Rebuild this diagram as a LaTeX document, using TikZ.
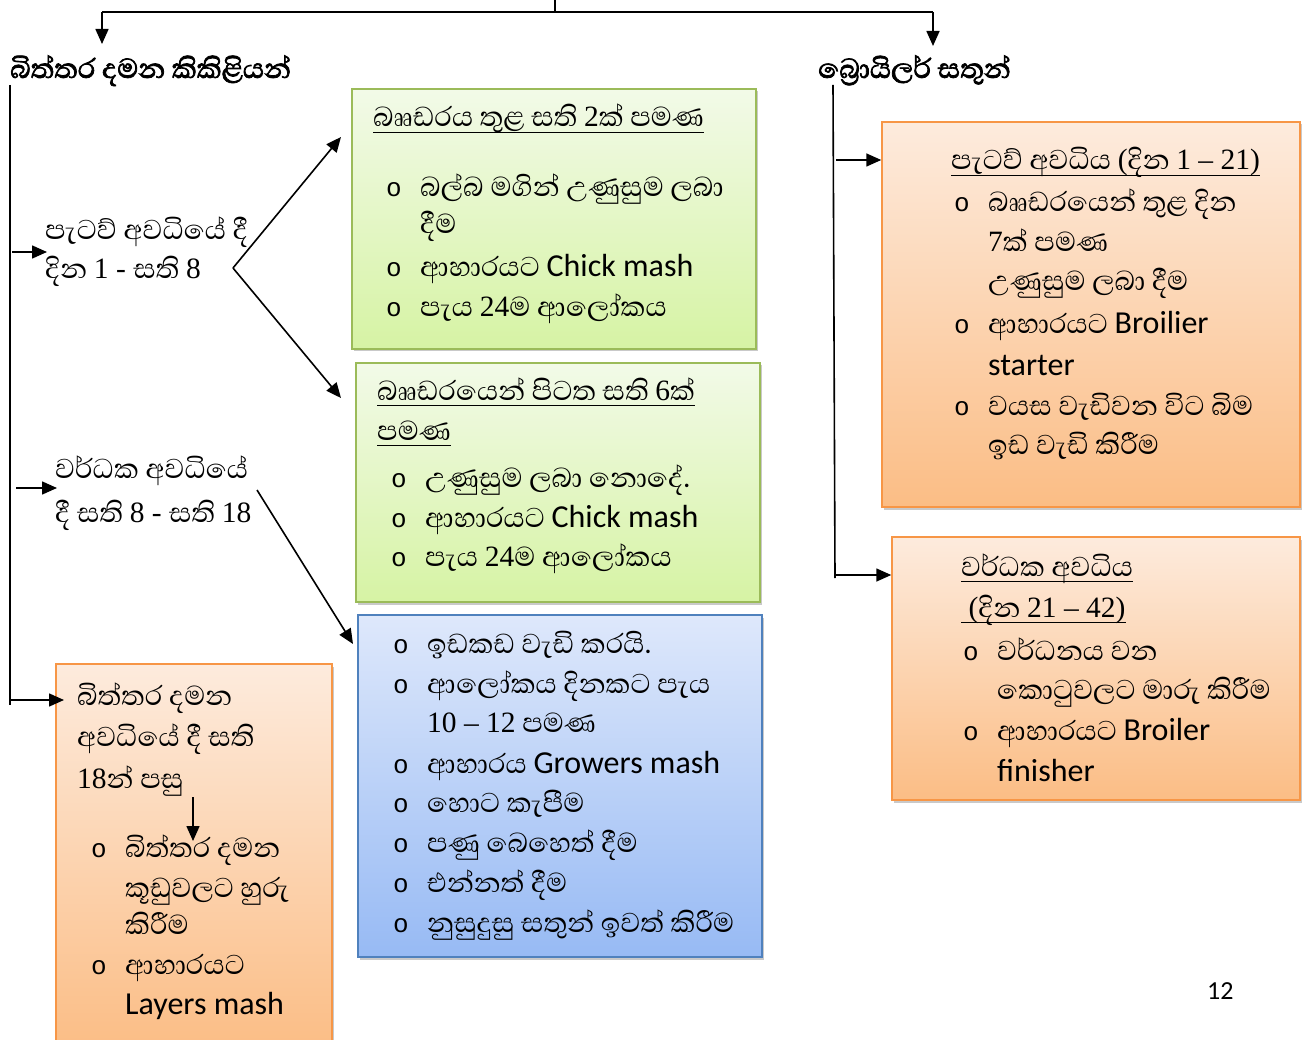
\documentclass[tikz,border=0pt]{standalone}
\usepackage{fontspec}
\setmainfont{Liberation Serif}
\newfontfamily\sifont[Script=Sinhala]{Abhaya Libre}
\newfontfamily\sibold[Script=Sinhala,FakeBold=2.2]{Abhaya Libre}
\newfontfamily\calf{Carlito}
\newfontfamily\tnr{Liberation Serif}
\newfontfamily\monof{Liberation Mono}
\usetikzlibrary{arrows.meta,shadows}
\newcommand\LT[1]{{\calf\fontsize{32}{38}\selectfont #1}}
\newcommand\NN[1]{{\tnr\fontsize{29.5}{34}\selectfont #1}}
\newcommand\BU{\llap{\makebox[34pt][l]{\monof\fontsize{26}{30}\selectfont o}}}
\newcommand\ULX[1]{\setbox0\hbox{#1}\rlap{\rule[-6pt]{\wd0}{1.4pt}}\box0}
\definecolor{gtop}{HTML}{F2FAE8}
\definecolor{gbot}{HTML}{D6F3A4}
\definecolor{gbor}{HTML}{9BBB59}
\definecolor{btop}{HTML}{DEE8FB}
\definecolor{bbot}{HTML}{97BAF4}
\definecolor{bbor}{HTML}{4F81BD}
\definecolor{otop}{HTML}{FDEBDD}
\definecolor{obot}{HTML}{FBBD85}
\definecolor{obor}{HTML}{F79646}
\tikzset{
  ln/.style={line width=1.6pt},
  arr/.style={line width=1.6pt,-{Triangle[length=15pt,width=13pt]}},
  txt/.style={anchor=base west, inner sep=0pt, font=\sifont\fontsize{35}{40}\selectfont},
  hd/.style={anchor=base west, inner sep=0pt, font=\sibold\fontsize{35}{40}\selectfont},
  boxbase/.style={rectangle, inner sep=0pt, line width=1.5pt,
     drop shadow={shadow xshift=2pt, shadow yshift=-2.5pt, opacity=0.35, fill=black!60}},
  gbox/.style={boxbase, draw=gbor, top color=gtop, bottom color=gbot},
  bbox/.style={boxbase, draw=bbor, top color=btop, bottom color=bbot},
  obox/.style={boxbase, draw=obor, top color=otop, bottom color=obot},
}
\begin{document}
\begin{tikzpicture}[x=1pt,y=-1pt]
\useasboundingbox (0,0) rectangle (1306,1040);
\fill[white] (0,0) rectangle (1306,1040);

% boxes
\node[gbox, minimum width=404pt, minimum height=260pt] (b1) at (554,219) {};
\node[gbox, minimum width=404pt, minimum height=239pt] (b2) at (558,482.5) {};
\node[bbox, minimum width=404pt, minimum height=342pt] (b3) at (560,786) {};
\node[obox, minimum width=276pt, minimum height=386pt] (b4) at (194,857) {};
\node[obox, minimum width=418pt, minimum height=385pt] (b5) at (1091,314.5) {};
\node[obox, minimum width=408pt, minimum height=263pt] (b6) at (1096,668.5) {};

% headings
\node[hd] (h1) at (10,78) {බිත්තර දමන කිකිළියන්};
\node[hd] (h2) at (818,78) {බ්‍රොයිලර් සතුන්};

% top connectors
\coordinate (top) at (555,0);
\coordinate (topm) at (555,12);
\coordinate (tl) at (102,12);
\coordinate (tr) at (933,12);
\coordinate (tla) at (102,44);
\coordinate (tra) at (933,46);
\draw[ln] (top) -- (topm);
\draw[ln] (tl) -- (tr);
\draw[arr] (tl) -- (tla);
\draw[arr] (tr) -- (tra);

% left labels
\node[txt] (l1a) at (45,240) {පැටව් අවධියේ දී};
\node[txt] (l1b) at (45,279) {දින \NN{1 - }සති \NN{8}};
\node[txt] (l2a) at (55,478) {වර්ධක අවධියේ};
\node[txt] (l2b) at (55,522) {දී සති \NN{8 - }සති \NN{18}};

% left spine
\coordinate (ls0) at (10,85);
\coordinate (ls1) at (10,705);
\draw[ln] (ls0) -- (ls1);
\coordinate (la1) at (12,252);
\coordinate (la1e) at (47,252);
\coordinate (la2) at (16,488);
\coordinate (la2e) at (57,488);
\coordinate (la3) at (10,700);
\coordinate (la3e) at (64,700);
\draw[arr] (la1) -- (la1e);
\draw[arr] (la2) -- (la2e);
\draw[arr] (la3) -- (la3e);

% V connector
\coordinate (vp) at (233,268);
\coordinate (v1) at (341,137);
\coordinate (v2) at (341,398);
\draw[arr] (vp) -- (v1);
\draw[arr] (vp) -- (v2);
\coordinate (w0) at (257,490);
\coordinate (w1) at (353,644);
\draw[arr] (w0) -- (w1);

% right spine
\coordinate (rs0) at (833,85);
\coordinate (rs1) at (835,578);
\draw[ln] (rs0) -- (rs1);
\coordinate (ra1) at (836,160);
\draw[arr] (ra1) -- (b5.west |- ra1);
\coordinate (ra2) at (836,575);
\draw[arr] (ra2) -- (b6.west |- ra2);

% box 1
\node[txt] (b1t) at (373,127) {\ULX{බෲඩරය තුළ සති \NN{2}ක් පමණ}};
\node[txt] (b1a) at (420,197) {\BU බල්බ මගින් උණුසුම ලබා};
\node[txt] (b1b) at (420,234) {දීම};
\node[txt] (b1c) at (420,277) {\BU ආහාරයට \LT{Chick mash}};
\node[txt] (b1d) at (420,317) {\BU පැය \NN{24}ම ආලෝකය};

% box 2
\node[txt] (b2t) at (377,400) {\ULX{බෲඩරයෙන් පිටත සති \NN{6}ක්}};
\node[txt] (b2u) at (377,440) {\ULX{පමණ}};
\node[txt] (b2a) at (425,487) {\BU උණුසුම ලබා නොදේ.};
\node[txt] (b2b) at (425,527) {\BU ආහාරයට \LT{Chick mash}};
\node[txt] (b2c) at (425,566) {\BU පැය \NN{24}ම ආලෝකය};

% box 3
\node[txt] (b3a) at (427,653) {\BU ඉඩකඩ වැඩි කරයි.};
\node[txt] (b3b) at (427,693) {\BU ආලෝකය දිනකට පැය};
\node[txt] (b3c) at (427,732) {\NN{10 – 12} පමණ};
\node[txt] (b3d) at (427,773) {\BU ආහාරය \LT{Growers mash}};
\node[txt] (b3e) at (427,812) {\BU හොට කැපීම};
\node[txt] (b3f) at (427,852) {\BU පණු බෙහෙත් දීම};
\node[txt] (b3g) at (427,892) {\BU එන්නත් දීම};
\node[txt] (b3h) at (427,932) {\BU නුසුදුසු සතුන් ඉවත් කිරීම};

% box 4
\node[txt] (b4a) at (77,705) {බිත්තර දමන};
\node[txt] (b4b) at (77,746) {අවධියේ දී සති};
\node[txt] (b4c) at (77,788) {\NN{18}න් පසු};
\coordinate (b4s) at (193,797);
\coordinate (b4e) at (193,841);
\draw[arr] (b4s) -- (b4e);
\node[txt] (b4d) at (125,857) {\BU බිත්තර දමන};
\node[txt] (b4f) at (125,897) {කූඩුවලට හුරු};
\node[txt] (b4g) at (125,934) {කිරීම};
\node[txt] (b4h) at (125,974) {\BU ආහාරයට};
\node[txt] (b4i) at (125,1014) {\LT{Layers mash}};

% box 5
\node[txt] (b5t) at (951,170) {\ULX{පැටව් අවධිය \NN{(}දින \NN{1 – 21)}}};
\node[txt] (b5a) at (988,212) {\BU බෲඩරයෙන් තුළ දින};
\node[txt] (b5b) at (988,252) {\NN{7}ක් පමණ};
\node[txt] (b5c) at (988,291) {උණුසුම ලබා දීම};
\node[txt] (b5d) at (988,334) {\BU ආහාරයට \LT{Broilier}};
\node[txt] (b5e) at (988,376) {\LT{starter}};
\node[txt] (b5f) at (988,415) {\BU වයස වැඩිවන විට බිම};
\node[txt] (b5g) at (988,454) {ඉඩ වැඩි කිරීම};

% box 6
\node[txt] (b6t) at (961,576) {\ULX{වර්ධක අවධිය}};
\node[txt] (b6u) at (961,617) {\ULX{\NN{ (}දින \NN{21 – 42)}}};
\node[txt] (b6a) at (997,660) {\BU වර්ධනය වන};
\node[txt] (b6b) at (997,699) {කොටුවලට මාරු කිරීම};
\node[txt] (b6c) at (997,740) {\BU ආහාරයට \LT{Broiler}};
\node[txt] (b6d) at (997,781) {\LT{finisher}};

% page number
\node[anchor=base west, inner sep=0pt, font=\calf\fontsize{26}{30}\selectfont] (pg) at (1207,999) {12};
\end{tikzpicture}
\end{document}
